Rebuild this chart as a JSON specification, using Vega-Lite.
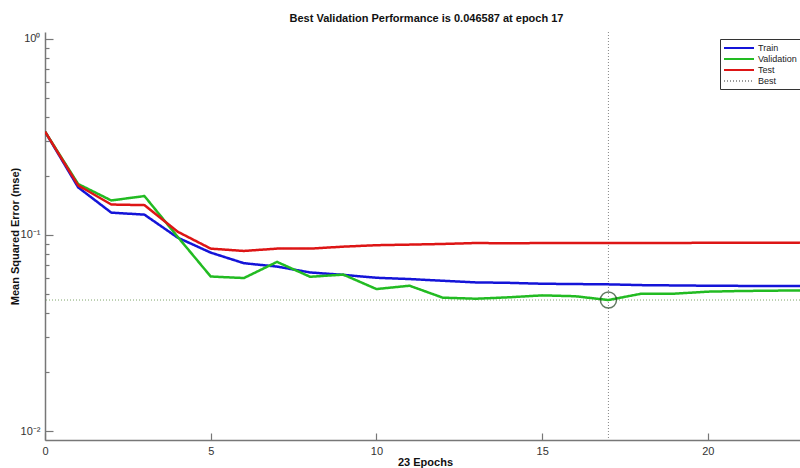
{
  "$schema": "https://vega.github.io/schema/vega-lite/v6.json",
  "width": 755,
  "height": 408,
  "autosize": {"type": "none"},
  "padding": {"left": 45, "top": 32, "right": 0, "bottom": 28},
  "background": "white",
  "config": {"view": {"stroke": null}, "font": "Liberation Sans"},
  "title": {"text": "Best Validation Performance is 0.046587 at epoch 17", "fontSize": 11, "fontWeight": "bold", "offset": 8, "dx": 4, "color": "#111"},
  "datasets": {
    "perf": [
      {"epoch": 0, "series": "Train", "mse": 0.337}, {"epoch": 1, "series": "Train", "mse": 0.175}, {"epoch": 2, "series": "Train", "mse": 0.130}, {"epoch": 3, "series": "Train", "mse": 0.127}, {"epoch": 4, "series": "Train", "mse": 0.097}, {"epoch": 5, "series": "Train", "mse": 0.0813}, {"epoch": 6, "series": "Train", "mse": 0.0718}, {"epoch": 7, "series": "Train", "mse": 0.069}, {"epoch": 8, "series": "Train", "mse": 0.0644}, {"epoch": 9, "series": "Train", "mse": 0.0626}, {"epoch": 10, "series": "Train", "mse": 0.0605}, {"epoch": 11, "series": "Train", "mse": 0.0596}, {"epoch": 12, "series": "Train", "mse": 0.0584}, {"epoch": 13, "series": "Train", "mse": 0.0573}, {"epoch": 14, "series": "Train", "mse": 0.0570}, {"epoch": 15, "series": "Train", "mse": 0.0564}, {"epoch": 16, "series": "Train", "mse": 0.0562}, {"epoch": 17, "series": "Train", "mse": 0.0560}, {"epoch": 18, "series": "Train", "mse": 0.0555}, {"epoch": 19, "series": "Train", "mse": 0.0553}, {"epoch": 20, "series": "Train", "mse": 0.0551}, {"epoch": 21, "series": "Train", "mse": 0.0550}, {"epoch": 22, "series": "Train", "mse": 0.0550}, {"epoch": 23, "series": "Train", "mse": 0.0549},
      {"epoch": 0, "series": "Validation", "mse": 0.337}, {"epoch": 1, "series": "Validation", "mse": 0.182}, {"epoch": 2, "series": "Validation", "mse": 0.150}, {"epoch": 3, "series": "Validation", "mse": 0.158}, {"epoch": 4, "series": "Validation", "mse": 0.098}, {"epoch": 5, "series": "Validation", "mse": 0.0614}, {"epoch": 6, "series": "Validation", "mse": 0.0603}, {"epoch": 7, "series": "Validation", "mse": 0.0729}, {"epoch": 8, "series": "Validation", "mse": 0.0612}, {"epoch": 9, "series": "Validation", "mse": 0.0628}, {"epoch": 10, "series": "Validation", "mse": 0.0530}, {"epoch": 11, "series": "Validation", "mse": 0.0551}, {"epoch": 12, "series": "Validation", "mse": 0.0479}, {"epoch": 13, "series": "Validation", "mse": 0.0473}, {"epoch": 14, "series": "Validation", "mse": 0.0481}, {"epoch": 15, "series": "Validation", "mse": 0.0492}, {"epoch": 16, "series": "Validation", "mse": 0.0487}, {"epoch": 17, "series": "Validation", "mse": 0.046587}, {"epoch": 18, "series": "Validation", "mse": 0.0502}, {"epoch": 19, "series": "Validation", "mse": 0.0502}, {"epoch": 20, "series": "Validation", "mse": 0.0514}, {"epoch": 21, "series": "Validation", "mse": 0.0518}, {"epoch": 22, "series": "Validation", "mse": 0.0520}, {"epoch": 23, "series": "Validation", "mse": 0.0522},
      {"epoch": 0, "series": "Test", "mse": 0.337}, {"epoch": 1, "series": "Test", "mse": 0.179}, {"epoch": 2, "series": "Test", "mse": 0.143}, {"epoch": 3, "series": "Test", "mse": 0.142}, {"epoch": 4, "series": "Test", "mse": 0.104}, {"epoch": 5, "series": "Test", "mse": 0.0852}, {"epoch": 6, "series": "Test", "mse": 0.0829}, {"epoch": 7, "series": "Test", "mse": 0.0852}, {"epoch": 8, "series": "Test", "mse": 0.0852}, {"epoch": 9, "series": "Test", "mse": 0.0872}, {"epoch": 10, "series": "Test", "mse": 0.0887}, {"epoch": 11, "series": "Test", "mse": 0.0893}, {"epoch": 12, "series": "Test", "mse": 0.0900}, {"epoch": 13, "series": "Test", "mse": 0.0910}, {"epoch": 14, "series": "Test", "mse": 0.0907}, {"epoch": 15, "series": "Test", "mse": 0.0910}, {"epoch": 16, "series": "Test", "mse": 0.0910}, {"epoch": 17, "series": "Test", "mse": 0.0910}, {"epoch": 18, "series": "Test", "mse": 0.0910}, {"epoch": 19, "series": "Test", "mse": 0.0911}, {"epoch": 20, "series": "Test", "mse": 0.0912}, {"epoch": 21, "series": "Test", "mse": 0.0912}, {"epoch": 22, "series": "Test", "mse": 0.0913}, {"epoch": 23, "series": "Test", "mse": 0.0913}
    ],
    "best": [{"epoch": 17, "mse": 0.046587}]
  },
  "resolve": {"axis": {"y": "independent"}},
  "layer": [
    {
      "data": {"name": "best"},
      "mark": {"type": "rule", "color": "#7fa56a", "strokeDash": [1, 2], "strokeWidth": 1},
      "encoding": {
        "y": {"field": "mse", "type": "quantitative", "scale": {"type": "log", "domain": [0.009, 1.085], "nice": false},
          "axis": {"orient": "left", "values": [0.01, 0.02, 0.03, 0.04, 0.05, 0.06, 0.07, 0.08, 0.09, 0.1, 0.2, 0.3, 0.4, 0.5, 0.6, 0.7, 0.8, 0.9, 1],
            "tickSize": {"condition": {"test": "abs(log(datum.value)/LN10 - round(log(datum.value)/LN10)) < 0.001", "value": -8}, "value": -4},
            "labelExpr": "abs(log(datum.value)/LN10 - round(log(datum.value)/LN10)) < 0.001 ? (datum.value > 0.5 ? '10⁰' : datum.value > 0.05 ? '10⁻¹' : '10⁻²') : ''",
            "labelOverlap": false, "labelFontSize": 11, "labelColor": "#333", "labelPadding": 13, "labelFlush": false,
            "domainColor": "#777", "domainWidth": 1.5, "tickColor": "#777", "tickWidth": 1.2, "grid": false,
            "title": "Mean Squared Error  (mse)", "titleFontSize": 11, "titleFontWeight": "bold", "titleColor": "#111", "titlePadding": 0}
        }
      }
    },
    {
      "data": {"name": "best"},
      "mark": {"type": "rule", "color": "#888888", "strokeDash": [1, 2], "strokeWidth": 1},
      "encoding": {
        "x": {"field": "epoch", "type": "quantitative", "scale": {"domain": [0, 22.78], "nice": false, "zero": false},
          "axis": {"values": [0, 5, 10, 15, 20], "tickSize": -7, "tickColor": "#777", "tickWidth": 1.2, "domainColor": "#777", "domainWidth": 1.5,
            "labelFontSize": 11, "labelColor": "#333", "labelPadding": 12, "grid": false, "labelFlush": false,
            "title": "23 Epochs", "titleFontSize": 11, "titleFontWeight": "bold", "titleColor": "#111", "titleX": 380, "titleY": 16, "titleBaseline": "top"}
        }
      }
    },
    {
      "data": {"name": "perf"},
      "mark": {"type": "line", "strokeWidth": 2.5, "clip": true},
      "encoding": {
        "x": {"field": "epoch", "type": "quantitative"},
        "y": {"field": "mse", "type": "quantitative", "axis": null},
        "color": {"field": "series", "type": "nominal",
          "scale": {"domain": ["Train", "Validation", "Test", "Best"], "range": ["#1414d8", "#22bb22", "#dd1515", "#999999"]},
          "legend": {"orient": "none", "legendX": 675, "legendY": 7, "title": null, "symbolType": "M-1,0H5.0", "symbolSize": 100, "symbolStrokeWidth": 2,
            "strokeColor": "#333", "fillColor": "white", "padding": 3, "labelFontSize": 9, "labelColor": "#222", "rowPadding": 0, "labelOffset": 23}},
        "strokeDash": {"field": "series", "type": "nominal",
          "scale": {"domain": ["Train", "Validation", "Test", "Best"], "range": [[1, 0], [1, 0], [1, 0], [1, 2]]},
          "legend": {"orient": "none", "legendX": 675, "legendY": 7, "title": null, "symbolType": "M-1,0H5.0", "symbolSize": 100, "symbolStrokeWidth": 2,
            "strokeColor": "#333", "fillColor": "white", "padding": 3, "labelFontSize": 9, "labelColor": "#222", "rowPadding": 0, "labelOffset": 23}}
      }
    },
    {
      "data": {"name": "best"},
      "mark": {"type": "point", "shape": "circle", "filled": false, "size": 260, "color": "#224422", "strokeWidth": 1.5},
      "encoding": {
        "x": {"field": "epoch", "type": "quantitative"},
        "y": {"field": "mse", "type": "quantitative", "axis": null}
      }
    }
  ]
}
